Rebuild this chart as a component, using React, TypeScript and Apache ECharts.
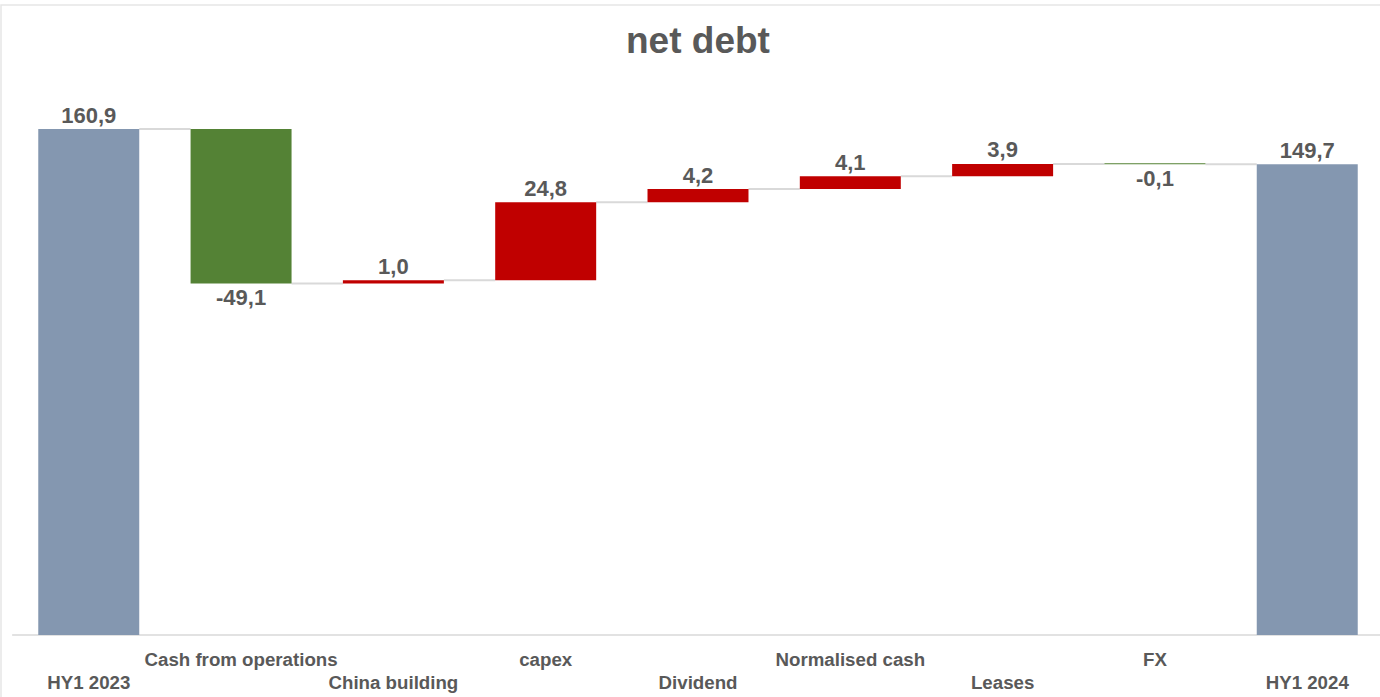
import React, { useEffect, useRef } from "react";
import * as echarts from "echarts";

const categories = [
  "HY1 2023",
  "Cash from operations",
  "China building",
  "capex",
  "Dividend",
  "Normalised cash",
  "Leases",
  "FX",
  "HY1 2024",
];
const values = [160.9, -49.1, 1.0, 24.8, 4.2, 4.1, 3.9, -0.1, 149.7];
const isTotal = [true, false, false, false, false, false, false, false, true];

const COLOR_TOTAL = "#8497B0";
const COLOR_DOWN = "#548235";
const COLOR_UP = "#C00000";
const TEXT = "#595959";
const GRID_LINE = "#d9d9d9";
const FONT = "'Liberation Sans', Arial, sans-serif";
const BAR_RATIO = 0.663;

const fmt = (v: number) => v.toFixed(1).replace(".", ",");

export default function App() {
  const ref = useRef<HTMLDivElement>(null);

  useEffect(() => {
    if (!ref.current) return;
    const chart = echarts.init(ref.current, undefined, { renderer: "svg" });

    // running totals
    const levels: number[] = [];
    let run = 0;
    values.forEach((v, i) => {
      run = isTotal[i] ? v : run + v;
      levels.push(run);
    });
    const baseData: number[] = [];
    const barData: any[] = [];
    values.forEach((v, i) => {
      if (isTotal[i]) {
        baseData.push(0);
        barData.push({
          value: v,
          itemStyle: { color: COLOR_TOTAL },
          label: { position: "top" },
        });
      } else {
        const prev = levels[i - 1];
        const low = Math.min(prev, levels[i]);
        baseData.push(low);
        barData.push({
          value: Math.abs(v),
          raw: v,
          itemStyle: { color: v < 0 ? COLOR_DOWN : COLOR_UP },
          label: { position: v < 0 ? "bottom" : "top" },
        });
      }
    });
    const connectorData = levels.slice(0, -1).map((l, i) => [i, l]);

    chart.setOption({
      animation: false,
      backgroundColor: "#ffffff",
      title: {
        text: "net debt",
        left: 621,
        top: 17,
        textStyle: { fontSize: 37, fontWeight: "bold", color: TEXT, fontFamily: FONT },
      },
      graphic: [
        {
          type: "rect",
          shape: { x: 1, y: 5, width: 1400, height: 720 },
          style: { fill: "none", stroke: "#e6e6e6", lineWidth: 1.5 },
          silent: true,
        },
      ],
      grid: { left: 12.6, right: 6.6, top: 69, bottom: 62 },
      xAxis: {
        type: "category",
        data: categories,
        axisLine: { show: true, lineStyle: { color: GRID_LINE, width: 1.5 } },
        axisTick: { show: false },
        axisLabel: {
          interval: 0,
          color: TEXT,
          fontFamily: FONT,
          fontWeight: "bold",
          fontSize: 18.7,
          lineHeight: 23,
          margin: 13,
          formatter: (v: string, i: number) => (i % 2 === 0 ? "\n" + v : v),
        },
      },
      yAxis: {
        type: "value",
        min: 0,
        max: 180,
        show: false,
        splitLine: { show: false },
      },
      series: [
        {
          type: "custom",
          data: connectorData,
          encode: { x: 0, y: 1 },
          z: 1,
          silent: true,
          renderItem: (params: any, api: any) => {
            const i = api.value(0);
            const lvl = api.value(1);
            const a = api.coord([i, lvl]);
            const b = api.coord([i + 1, lvl]);
            const half = (api.size([1, 0])[0] * BAR_RATIO) / 2;
            return {
              type: "line",
              shape: { x1: a[0] + half, y1: a[1], x2: b[0] - half, y2: b[1] },
              style: { stroke: GRID_LINE, lineWidth: 2 },
            };
          },
        },
        {
          type: "bar",
          stack: "wf",
          data: baseData,
          barWidth: BAR_RATIO * 100 + "%",
          itemStyle: { color: "transparent" },
          silent: true,
          z: 2,
        },
        {
          type: "bar",
          stack: "wf",
          data: barData,
          barWidth: BAR_RATIO * 100 + "%",
          barMinHeight: 1,
          z: 3,
          label: {
            show: true,
            distance: 3,
            color: TEXT,
            fontFamily: FONT,
            fontWeight: "bold",
            fontSize: 22,
            formatter: (p: any) => fmt(p.data.raw !== undefined ? p.data.raw : p.data.value),
          },
        },
      ],
    });

    return () => chart.dispose();
  }, []);

  return (
    <div
      style={{
        position: "absolute",
        left: 0,
        top: 0,
        width: 1380,
        height: 697,
        overflow: "hidden",
      }}
    >
      <div ref={ref} style={{ width: 1390, height: 697 }} />
    </div>
  );
}
